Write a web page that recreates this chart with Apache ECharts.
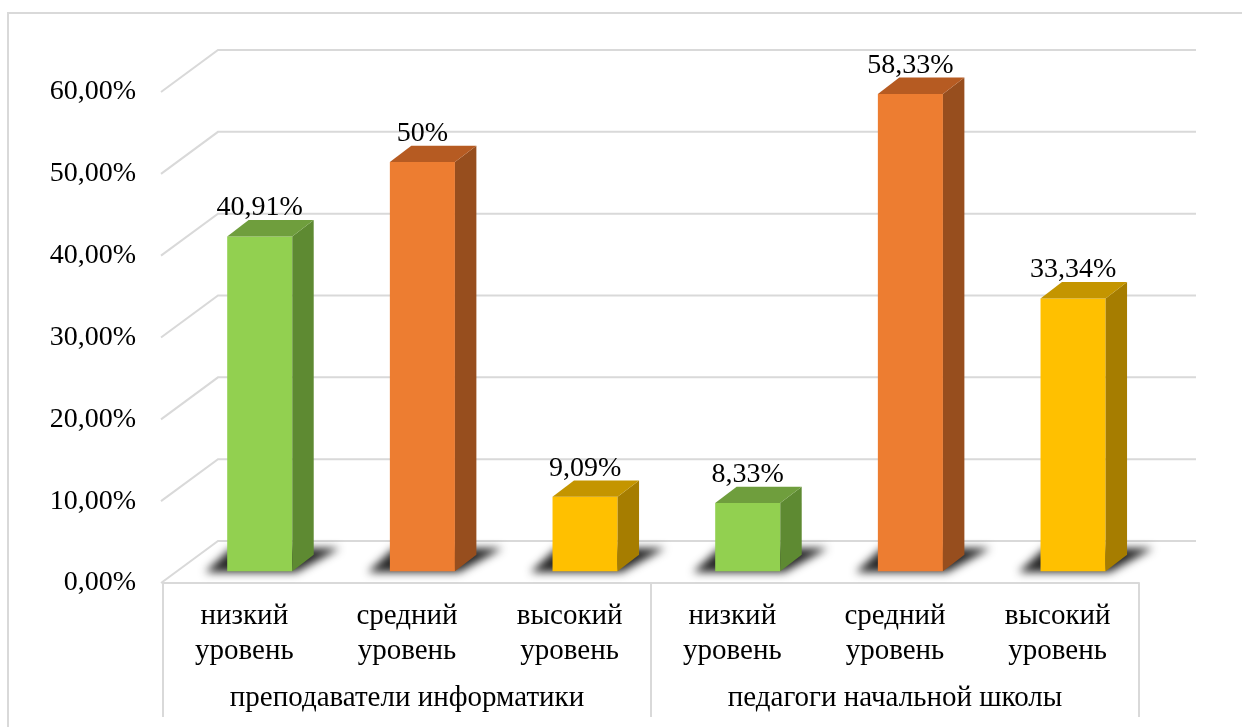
<!DOCTYPE html>
<html>
<head>
<meta charset="utf-8">
<script src="https://cdn.jsdelivr.net/npm/echarts@6/dist/echarts.min.js"></script>
<style>
html,body{margin:0;padding:0;background:#fff;}
#chart{width:1242px;height:727px;}
</style>
</head>
<body>
<div id="chart"></div>
<script>
// ---- data ----
const categories = ['низкий\nуровень','средний\nуровень','высокий\nуровень','низкий\nуровень','средний\nуровень','высокий\nуровень'];
const groups = ['преподаватели информатики','педагоги начальной школы'];
const values = [40.91, 50, 9.09, 8.33, 58.33, 33.34];
const levelIndex = [0, 1, 2, 0, 1, 2];
const yTicks = [0, 10, 20, 30, 40, 50, 60];

// ---- style ----
const FONT = "'Liberation Serif','Times New Roman',serif";
const GRID_COLOR = '#D9D9D9';
const DEPTH_X = 55, DEPTH_Y = -42;        // box depth (px)
const BAR_FRONT = 0.28, BAR_DEPTH = 0.39; // bar position within depth
const BAR_WIDTH = 0.4;                    // fraction of band
const palette = [
  {front:'#92D050', side:'#5E8A32', top:'#6F9E3D'},
  {front:'#ED7D31', side:'#974E1E', top:'#B65B22'},
  {front:'#FFC000', side:'#A67D00', top:'#C49500'}
];

function fmtLabel(v){ return String(v).replace('.', ',') + '%'; }

const chart = echarts.init(document.getElementById('chart'), null, {renderer:'canvas'});

function renderWall(params, api){
  const v = api.value(0);
  const cs = params.coordSys;
  const y = api.coord([0, v])[1];
  const x0 = cs.x, x1 = cs.x + cs.width;
  return {
    type:'polyline',
    shape:{points:[[x0-2, y],[x0 + DEPTH_X, y + DEPTH_Y],[x1 + DEPTH_X + 2, y + DEPTH_Y]]},
    style:{stroke:GRID_COLOR, lineWidth:2, fill:null}
  };
}

const SHIFT = 3000; // draw shadow shape off-canvas, keep only its blurred shadow
function renderBar(params, api){
  const i = api.value(0), v = api.value(1);
  const c = palette[levelIndex[i]];
  const topP = api.coord([i, v]);
  const baseP = api.coord([i, 0]);
  const band = api.size([1, 0])[0];
  const w = band * BAR_WIDTH;
  const fx = DEPTH_X * BAR_FRONT, fy = DEPTH_Y * BAR_FRONT;
  const dx = DEPTH_X * BAR_DEPTH, dy = DEPTH_Y * BAR_DEPTH;
  const cx = topP[0] + fx;
  const L = cx - w/2, R = cx + w/2;
  const yt = topP[1] + fy, yb = baseP[1] + fy;
  const children = [];
  // soft shadow on floor
  const sp = [[L-22, yb+1],[R+4, yb+1],[R+dx+26, yb-23],[L+4, yb-23]];
  children.push({
    type:'polygon',
    shape:{points:sp.map(function(p){ return [p[0]-SHIFT, p[1]]; })},
    style:{fill:'#000', shadowBlur:9, shadowColor:'rgba(0,0,0,0.85)', shadowOffsetX:SHIFT, shadowOffsetY:0}
  });
  // front
  children.push({type:'rect', shape:{x:L, y:yt, width:w, height:yb-yt}, style:{fill:c.front}});
  // side
  children.push({type:'polygon', shape:{points:[[R, yt],[R+dx, yt+dy],[R+dx, yb+dy],[R, yb]]}, style:{fill:c.side}});
  // top
  children.push({type:'polygon', shape:{points:[[L, yt],[R, yt],[R+dx, yt+dy],[L+dx, yt+dy]]}, style:{fill:c.top}});
  // label
  children.push({type:'text', x:cx, y:yt+dy+2,
    style:{text:fmtLabel(v), fill:'#000', font:'28px ' + FONT, align:'center', verticalAlign:'bottom'}});
  return {type:'group', children};
}

const option = {
  animation:false,
  backgroundColor:'#fff',
  graphic:[{
    type:'rect', shape:{x:8, y:13, width:1300, height:800},
    style:{fill:null, stroke:GRID_COLOR, lineWidth:2}, z:-10
  }],
  grid:{left:163, right:103, top:92, bottom:144},
  xAxis:[
    {
      type:'category', data:categories, position:'bottom',
      axisLine:{show:false}, axisTick:{show:false},
      axisLabel:{interval:0, margin:16, fontSize:29, lineHeight:35, color:'#000', fontFamily:FONT}
    },
    {
      type:'category', data:groups, position:'bottom',
      axisLine:{show:true, lineStyle:{color:GRID_COLOR, width:2}},
      axisTick:{show:true, length:134, lineStyle:{color:GRID_COLOR, width:2}},
      axisLabel:{interval:0, margin:99, fontSize:29, lineHeight:32, color:'#000', fontFamily:FONT}
    }
  ],
  yAxis:{
    type:'value', min:0, max:60, interval:10,
    axisLine:{show:false}, axisTick:{show:false}, splitLine:{show:false},
    axisLabel:{margin:27, fontSize:28, color:'#000', fontFamily:FONT,
      formatter:function(v){ return v.toFixed(2).replace('.', ',') + '%'; }}
  },
  series:[
    {
      type:'custom', xAxisIndex:0, yAxisIndex:0, renderItem:renderWall,
      data:yTicks.map(function(t){ return [t]; }), encode:{y:0}, clip:false, silent:true, z:1
    },
    {
      type:'custom', xAxisIndex:0, yAxisIndex:0, renderItem:renderBar,
      data:values.map(function(v, i){ return [i, v]; }), encode:{x:0, y:1}, clip:false, z:2
    }
  ]
};
chart.setOption(option);
</script>
</body>
</html>
